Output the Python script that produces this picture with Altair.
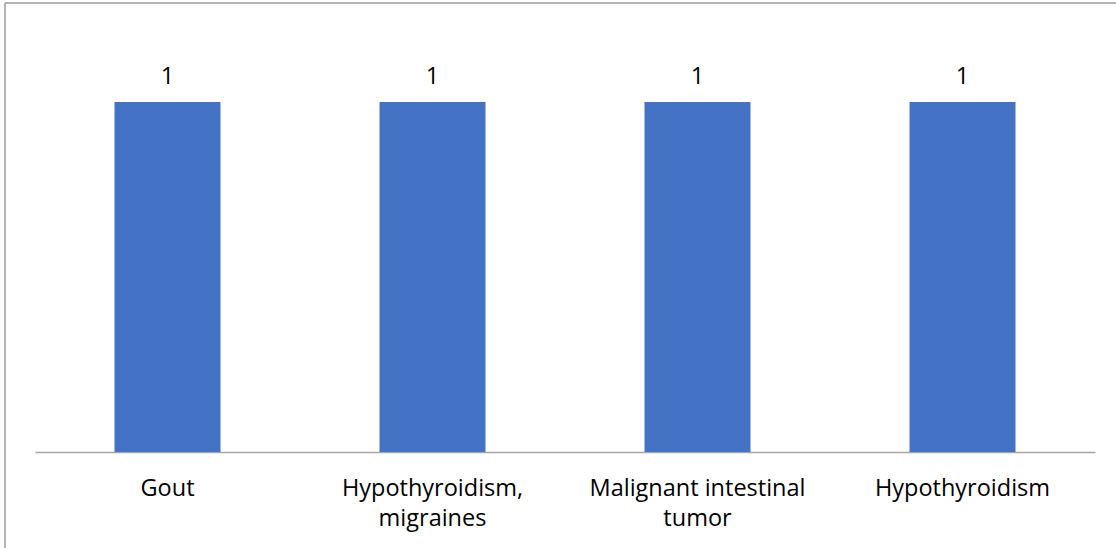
import altair as alt
import pandas as pd

# Diagnoses and their counts
categories = ["Gout", "Hypothyroidism, migraines", "Malignant intestinal tumor", "Hypothyroidism"]
wrapped = ["Gout", "Hypothyroidism,\nmigraines", "Malignant intestinal\ntumor", "Hypothyroidism"]
counts = [1, 1, 1, 1]

df = pd.DataFrame({"category": categories, "wrapped": wrapped, "count": counts})

FONT = "Open Sans"
FS = 23.5
W, H = 1060, 420

x_enc = alt.X(
    "category:N",
    sort=categories,
    scale=alt.Scale(paddingInner=0.6, paddingOuter=0.3),
    axis=alt.Axis(
        title=None, labels=False, ticks=False, domain=True,
        domainColor="#a6a6a6", domainWidth=1.5,
    ),
)
y_enc = alt.Y(
    "count:Q",
    scale=alt.Scale(domain=[0, 1.2], nice=False),
    axis=None,
)

base = alt.Chart(df)

bars = base.mark_bar(color="#4472C4").encode(x=x_enc, y=y_enc)

values = base.mark_text(
    font=FONT, fontSize=FS, color="#000000", baseline="alphabetic", dy=-18
).encode(x=x_enc, y=y_enc, text="count:Q")

cat_labels = base.mark_text(
    font=FONT, fontSize=FS, color="#000000", baseline="alphabetic",
    lineBreak="\n", lineHeight=30, align="center",
).encode(x=x_enc, y=alt.value(H + 44), text="wrapped:N")

# Chart-area frame (top and left edges)
frame_top = base.mark_rule(color="#b4b4b4", strokeWidth=1.5).encode(
    x=alt.value(-30), x2=alt.value(W + 21), y=alt.value(-29)
)
frame_left = base.mark_rule(color="#b4b4b4", strokeWidth=1.5).encode(
    x=alt.value(-30), y=alt.value(-29), y2=alt.value(H + 96)
)

chart = (
    alt.layer(bars, values, cat_labels, frame_top, frame_left)
    .properties(
        width=W, height=H,
        autosize=alt.AutoSizeParams(type="none"),
        padding={"left": 35, "top": 32, "right": 21, "bottom": 96},
        background="white",
    )
    .configure_view(stroke=None)
)

chart.save("out.html", embed_options={"renderer": "svg", "actions": False})
